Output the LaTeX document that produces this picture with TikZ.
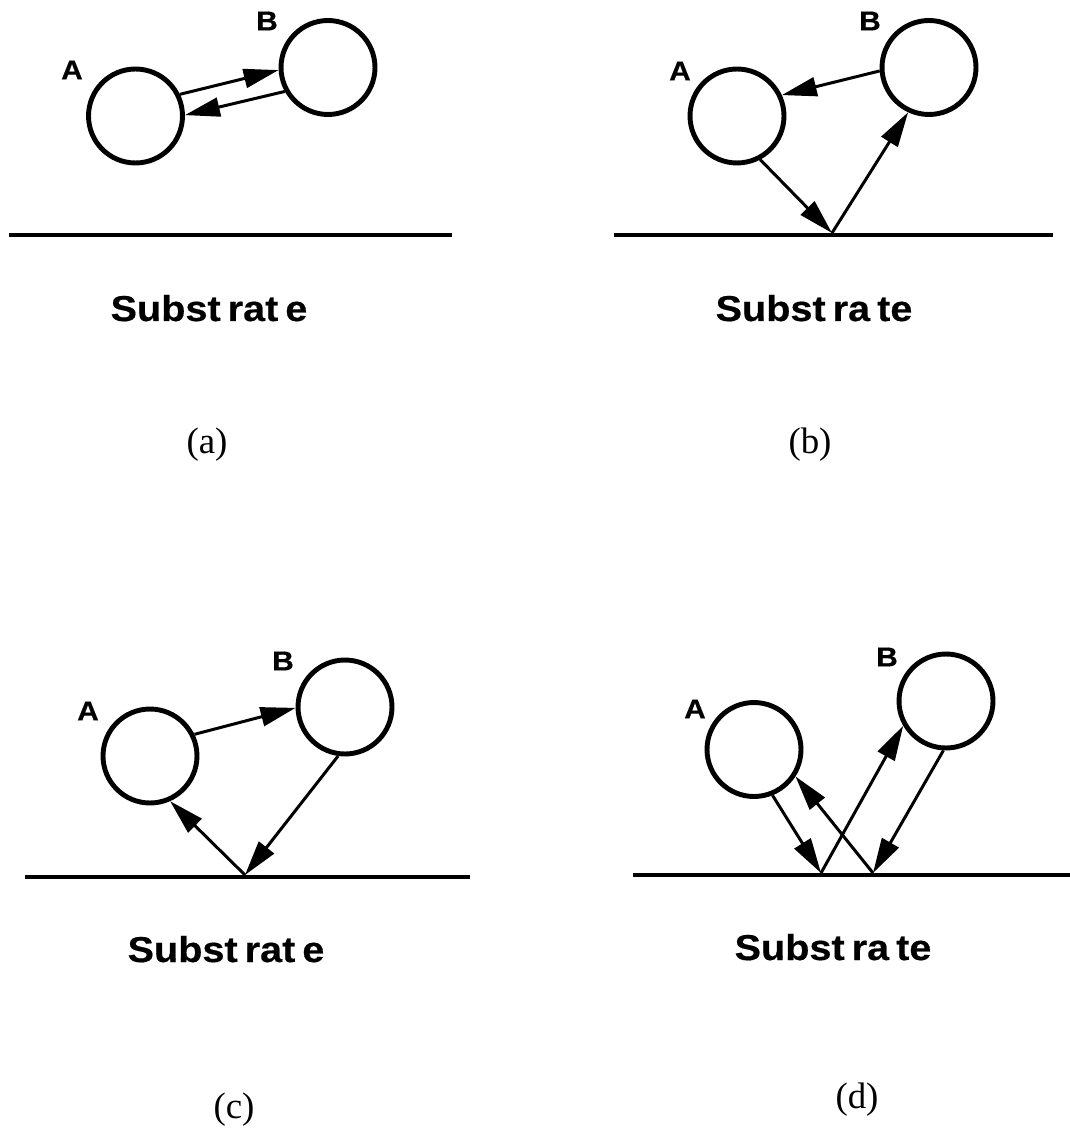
\documentclass[tikz,border=0pt]{standalone}
\usepackage{fontspec}
\setmainfont{Liberation Serif}
\newfontfamily\widesans[FakeStretch=1.1,BoldFeatures={FakeBold=0.4}]{Liberation Sans}
\usetikzlibrary{arrows.meta}

\begin{document}
\begin{tikzpicture}[x=0.02cm,y=-0.02cm,
    particle/.style={circle,draw,line width=2.8pt,minimum size=1.88cm,inner sep=0pt},
    hop/.style={-{Triangle[length=0.7cm,width=0.38cm]},line width=1.7pt},
    surf/.style={line width=2.7pt},
    atom/.style={font=\widesans\bfseries\fontsize{15.5}{15.5}\selectfont},
    subs/.style={anchor=base,font=\widesans\bfseries\fontsize{20.5}{20.5}\selectfont},
    tag/.style={anchor=base,font=\fontsize{21}{21}\selectfont}]
    \useasboundingbox (0,0) rectangle (1070,1131);

    % (a) A and B trade back and forth
    \node[particle] (aA) at (135.5,116) {};
    \node[particle] (aB) at (328,67.5) {};
    \node[atom] (aAl) at (72,70) {A};
    \node[atom] (aBl) at (267,21) {B};
    \draw[hop] (aA.26) -- (aB.183);
    \draw[hop] (aB.209) -- (aA.1);
    \draw[surf] (9,235) -- (452,235);
    \node[subs] (aSub) at (209,321) {Subst\kern4pt rat\kern4pt e};
    \node[tag] (aTag) at (207,453) {(a)};

    % (b) A goes by way of the substrate
    \node[particle] (bA) at (737,116) {};
    \node[particle] (bB) at (929,67.5) {};
    \node[atom] (bAl) at (680,71) {A};
    \node[atom] (bBl) at (870,21) {B};
    \coordinate (bS) at (832,233);
    \draw[hop] (bB.184) -- (bA.25);
    \draw[hop] (bA.298) -- (bS);
    \draw[hop] (bS) -- (bB.245);
    \draw[surf] (614,235) -- (1053,235);
    \node[subs] (bSub) at (814,321) {Subst\kern4pt ra\kern4pt te};
    \node[tag] (bTag) at (810,453) {(b)};

    % (c)
    \node[particle] (cA) at (150,756) {};
    \node[particle] (cB) at (345,707) {};
    \node[atom] (cAl) at (88,711) {A};
    \node[atom] (cBl) at (283,661) {B};
    \coordinate (cS) at (245,875);
    \draw[hop] (cA.26) -- (cB.181);
    \draw[hop] (cB.262) -- (cS);
    \draw[hop] (cS) -- (cA.294);
    \draw[surf] (25,877) -- (470,877);
    \node[subs] (cSub) at (226,962) {Subst\kern4pt rat\kern4pt e};
    \node[tag] (cTag) at (234,1118) {(c)};

    % (d)
    \node[particle] (dA) at (754,749.5) {};
    \node[particle] (dB) at (946,701) {};
    \node[atom] (dAl) at (695,709) {A};
    \node[atom] (dBl) at (887,657) {B};
    \coordinate (dS1) at (821,873);
    \coordinate (dS2) at (873,873);
    \draw[hop] (dA.292) -- (dS1);
    \draw[hop] (dS1) -- (dB.210);
    \draw[hop] (dB.267) -- (dS2);
    \draw[hop] (dS2) -- (dA.327);
    \draw[surf] (633,875) -- (1070,875);
    \node[subs] (dSub) at (833,960) {Subst\kern4pt ra\kern4pt te};
    \node[tag] (dTag) at (857,1108) {(d)};
\end{tikzpicture}
\end{document}
